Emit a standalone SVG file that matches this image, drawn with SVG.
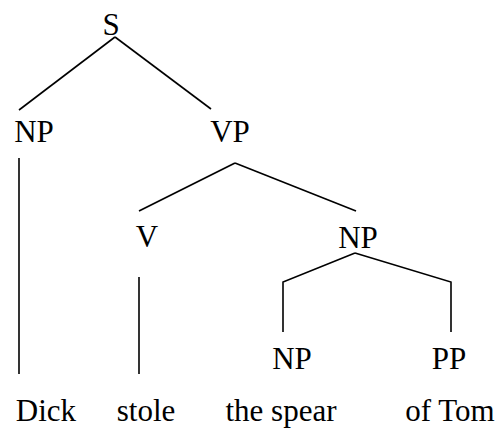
<svg xmlns="http://www.w3.org/2000/svg" width="499" height="428" viewBox="0 0 499 428">
<style>
text{font-family:"Liberation Serif","Times New Roman",serif;font-size:31px;fill:#000}
.e{fill:none;stroke:#000;stroke-width:1.6}
</style>
<rect width="499" height="428" fill="#fff"/>
<g id="connectors">
<path class="e" d="M115,37 L19,110"/>
<path class="e" d="M115,37 L211,109"/>
<path class="e" d="M19,158 L19,374"/>
<path class="e" d="M235,163 L139,211"/>
<path class="e" d="M235,163 L356,211"/>
<path class="e" d="M139,277 L139,374"/>
<path class="e" d="M355,253 L283,282 L283,332"/>
<path class="e" d="M355,253 L451,282 L451,332"/>
</g>
<g id="S"><text x="111" y="35" text-anchor="middle">S</text></g>
<g id="NP1"><text x="34" y="142" text-anchor="middle">NP</text></g>
<g id="VP"><text x="230" y="142" text-anchor="middle">VP</text></g>
<g id="V"><text x="147" y="247" text-anchor="middle">V</text></g>
<g id="NP2"><text x="358" y="248" text-anchor="middle">NP</text></g>
<g id="NP3"><text x="292" y="369" text-anchor="middle">NP</text></g>
<g id="PP"><text x="449" y="369" text-anchor="middle">PP</text></g>
<g id="Dick"><text x="46" y="421" text-anchor="middle">Dick</text></g>
<g id="stole"><text x="146" y="421" text-anchor="middle">stole</text></g>
<g id="thespear"><text x="281" y="421" text-anchor="middle">the spear</text></g>
<g id="ofTom"><text x="450" y="421" text-anchor="middle">of Tom</text></g>
</svg>
